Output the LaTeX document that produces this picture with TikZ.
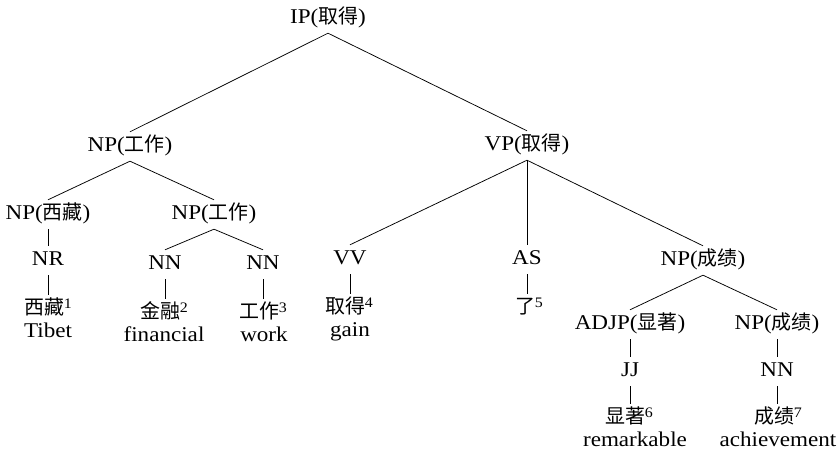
\documentclass[tikz,border=0pt]{standalone}
\usepackage{fontspec}
\setmainfont{Liberation Serif}[FakeStretch=1.1]
\newfontfamily\cjkf{Noto Sans CJK SC}[Scale=0.95]
\newcommand{\zhw}[1]{{\cjkf #1}}
\newcommand{\wsup}[1]{\raisebox{6pt}{\fontsize{14.5}{15}\selectfont #1}}
\begin{document}
\begin{tikzpicture}[x=1pt,y=-1pt,
  font=\fontsize{21}{25}\selectfont,
  tag/.style={anchor=base, text height=17pt, text depth=6pt, inner ysep=3pt, inner xsep=0pt},
  word/.style={anchor=base, text height=18pt, text depth=4pt, inner ysep=2pt, inner xsep=0pt},
  gloss/.style={anchor=base, inner sep=0pt},
  edge/.style={draw, line width=0.75pt}]
\path[use as bounding box, fill=white] (0,0) rectangle (839,454);
% phrase / tag nodes
\node[tag] (ip)   at (328,24)  {IP(\zhw{取得})};
\node[tag] (np1)  at (130,152) {NP(\zhw{工作})};
\node[tag] (vp)   at (527,151) {VP(\zhw{取得})};
\node[tag] (np2)  at (48,220)  {NP(\zhw{西藏})};
\node[tag] (np3)  at (214,220) {NP(\zhw{工作})};
\node[tag] (nr)   at (48,266)  {NR};
\node[tag] (nn1)  at (165,270) {NN};
\node[tag] (nn2)  at (263,270) {NN};
\node[tag] (vv)   at (350,265) {VV};
\node[tag] (as)   at (527,265) {AS};
\node[tag] (np4)  at (703,266) {NP(\zhw{成绩})};
\node[tag] (adjp) at (630,330) {ADJP(\zhw{显著})};
\node[tag] (np5)  at (777,330) {NP(\zhw{成绩})};
\node[tag] (jj)   at (630,377) {JJ};
\node[tag] (nn3)  at (777,377) {NN};
% words
\node[word] (w1) at (48,315)  {\zhw{西藏}\wsup{1}};
\node[word] (w2) at (164,319) {\zhw{金融}\wsup{2}};
\node[word] (w3) at (263,319) {\zhw{工作}\wsup{3}};
\node[word] (w4) at (349,314) {\zhw{取得}\wsup{4}};
\node[word] (w5) at (529,314) {\zhw{了}\wsup{5}};
\node[word] (w6) at (629,424) {\zhw{显著}\wsup{6}};
\node[word] (w7) at (778,424) {\zhw{成绩}\wsup{7}};
% glosses
\node[gloss] (g1) at (48,338)  {Tibet};
\node[gloss] (g2) at (164,342) {financial};
\node[gloss] (g3) at (264,342) {work};
\node[gloss] (g4) at (350,337) {gain};
\node[gloss] (g6) at (635,447) {remarkable};
\node[gloss] (g7) at (778,447) {achievement};
% edges
\draw[edge] (ip.south) -- (np1.north);
\draw[edge] (ip.south) -- (vp.north);
\draw[edge] (np1.south) -- (np2.north);
\draw[edge] (np1.south) -- (np3.north);
\draw[edge] (np2.south) -- (nr.north);
\draw[edge] (np3.south) -- (nn1.north);
\draw[edge] (np3.south) -- (nn2.north);
\draw[edge] (vp.south) -- (vv.north);
\draw[edge] (vp.south) -- (as.north);
\draw[edge] (vp.south) -- (np4.north);
\draw[edge] (np4.south) -- (adjp.north);
\draw[edge] (np4.south) -- (np5.north);
\draw[edge] (adjp.south) -- (jj.north);
\draw[edge] (np5.south) -- (nn3.north);
\draw[edge] (nr.south) -- (nr.south |- w1.north);
\draw[edge] (nn1.south) -- (nn1.south |- w2.north);
\draw[edge] (nn2.south) -- (nn2.south |- w3.north);
\draw[edge] (vv.south) -- (vv.south |- w4.north);
\draw[edge] (as.south) -- (as.south |- w5.north);
\draw[edge] (jj.south) -- (jj.south |- w6.north);
\draw[edge] (nn3.south) -- (nn3.south |- w7.north);
\end{tikzpicture}
\end{document}
